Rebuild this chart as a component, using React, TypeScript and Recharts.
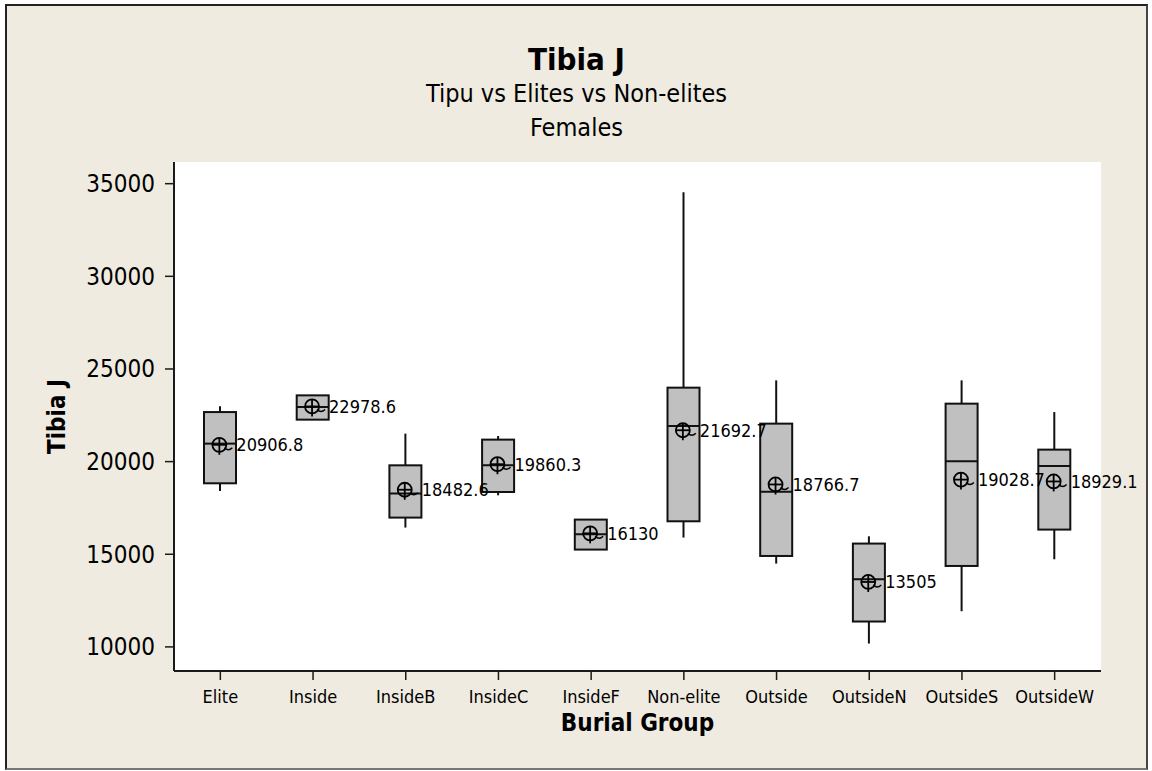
import React from 'react';
import { ComposedChart, Bar, Line, XAxis, YAxis, CartesianGrid, Label } from 'recharts';

const categories = ['Elite', 'Inside', 'InsideB', 'InsideC', 'InsideF', 'Non-elite', 'Outside', 'OutsideN', 'OutsideS', 'OutsideW'];
const whiskerLow = [18414, 22265, 16440, 18182, 15253, 15900, 14498, 10183, 11925, 14730];
const q1Values = [18830, 22265, 16979, 18360, 15253, 16780, 14908, 11370, 14369, 16332];
const medians = [20971, 22945, 18274, 19800, 16078, 21920, 18380, 13651, 20016, 19763];
const q3Values = [22675, 23576, 19800, 21187, 16871, 23992, 22050, 15577, 23128, 20647];
const whiskerHigh = [22983, 23576, 21510, 21381, 16871, 34542, 24385, 15970, 24385, 22675];
const means = [20906.8, 22978.6, 18482.6, 19860.3, 16130, 21692.7, 18766.7, 13505, 19028.7, 18929.1];
const yTicks = [10000, 15000, 20000, 25000, 30000, 35000];
const yDomain = [8700, 36170];

const titleText = 'Tibia J';
const subtitleLines = ['Tipu vs Elites vs Non-elites', 'Females'];
const xTitle = 'Burial Group';
const yTitle = 'Tibia J';

const FONT = "'DejaVu Sans Condensed', 'Liberation Sans', Arial, sans-serif";

const data = categories.map((name, i) => ({
  name,
  range: [whiskerLow[i], whiskerHigh[i]],
  q1: q1Values[i],
  median: medians[i],
  q3: q3Values[i],
  mean: means[i],
}));

const BoxShape = (props: any) => {
  const { x, y, width, height, payload } = props;
  if (x == null || y == null) return null;
  const top = Math.min(y, y + height);
  const h = Math.abs(height);
  const [lo, hi] = payload.range;
  const k = hi - lo === 0 ? 0 : h / (hi - lo);
  const py = (v: number) => top + (hi - v) * k;
  const cx = x + width / 2;
  const stroke = '#111';
  const sw = 2;
  return (
    <g>
      <line x1={cx} x2={cx} y1={py(hi)} y2={py(payload.q3)} stroke={stroke} strokeWidth={sw} />
      <line x1={cx} x2={cx} y1={py(payload.q1)} y2={py(lo)} stroke={stroke} strokeWidth={sw} />
      <rect
        x={x}
        y={py(payload.q3)}
        width={width}
        height={py(payload.q1) - py(payload.q3)}
        fill="#c0c0c0"
        stroke={stroke}
        strokeWidth={sw}
      />
      <line x1={x} x2={x + width} y1={py(payload.median)} y2={py(payload.median)} stroke={stroke} strokeWidth={sw} />
    </g>
  );
};

const MeanDot = (props: any) => {
  const { cx, cy, payload, index } = props;
  if (cx == null || cy == null) return null;
  return (
    <g key={`mean-${index}`}>
      <circle cx={cx - 1} cy={cy} r={7} fill="none" stroke="#000" strokeWidth={1.8} />
      <line x1={cx - 8} x2={cx + 6} y1={cy} y2={cy} stroke="#000" strokeWidth={1.8} />
      <line x1={cx - 1} x2={cx - 1} y1={cy - 7} y2={cy + 10} stroke="#000" strokeWidth={1.8} />
      <path d={`M ${cx + 4} ${cy + 3} Q ${cx + 8} ${cy + 7} ${cx + 12} ${cy + 3}`} fill="none" stroke="#000" strokeWidth={1.4} />
      <text x={cx + 16} y={cy} dy="0.36em" fontSize={18} fontFamily={FONT} fill="#000">
        {String(payload.mean)}
      </text>
    </g>
  );
};

export default function App() {
  return (
    <div style={{ position: 'absolute', left: 0, top: 0, width: 1152, height: 771, background: '#fff', overflow: 'hidden' }}>
      <div
        style={{
          position: 'absolute',
          left: 5,
          top: 4,
          width: 1143,
          height: 766,
          boxSizing: 'border-box',
          background: '#EFEBE0',
          borderTop: '2px solid #222',
          borderLeft: '2px solid #222',
          borderRight: '2px solid #444',
          borderBottom: '2px solid #777',
        }}
      />
      <div style={{ position: 'absolute', left: 6, width: 1141, top: 44, textAlign: 'center', fontFamily: FONT, fontWeight: 'bold', fontSize: 31, lineHeight: '31px', color: '#000' }}>
        {titleText}
      </div>
      <div style={{ position: 'absolute', left: 6, width: 1141, top: 81, textAlign: 'center', fontFamily: FONT, fontSize: 25, lineHeight: '25px', color: '#000' }}>
        {subtitleLines[0]}
      </div>
      <div style={{ position: 'absolute', left: 6, width: 1141, top: 115, textAlign: 'center', fontFamily: FONT, fontSize: 25, lineHeight: '25px', color: '#000' }}>
        {subtitleLines[1]}
      </div>
      <div style={{ position: 'absolute', left: 0, top: 0 }}>
        <ComposedChart width={1152} height={771} data={data} margin={{ top: 162, right: 51, bottom: 0, left: 0 }}>
          <CartesianGrid horizontal={false} vertical={false} fill="#ffffff" />
          <XAxis
            dataKey="name"
            type="category"
            interval={0}
            height={100}
            tickSize={9}
            tickMargin={10}
            tick={{ fontSize: 18, fill: '#000', fontFamily: FONT }}
            axisLine={{ stroke: '#1a1a1a', strokeWidth: 2 }}
            tickLine={{ stroke: '#1a1a1a', strokeWidth: 1.5 }}
          >
            <Label
              content={(p: any) => {
                const vb = p.viewBox || {};
                return (
                  <text x={vb.x + vb.width / 2} y={vb.y + 60} textAnchor="middle" fontFamily={FONT} fontWeight="bold" fontSize={24} fill="#000">
                    {xTitle}
                  </text>
                );
              }}
            />
          </XAxis>
          <XAxis xAxisId="top" dataKey="name" orientation="top" height={0} tick={false} tickLine={false} axisLine={{ stroke: '#1a1a1a', strokeWidth: 2 }} />
          <YAxis
            type="number"
            domain={yDomain}
            ticks={yTicks}
            allowDataOverflow
            width={174}
            tickSize={9}
            tickMargin={10}
            tick={{ fontSize: 24, fill: '#000', fontFamily: FONT }}
            axisLine={{ stroke: '#1a1a1a', strokeWidth: 2 }}
            tickLine={{ stroke: '#1a1a1a', strokeWidth: 1.5 }}
          >
            <Label
              content={(p: any) => {
                const vb = p.viewBox || {};
                return (
                  <text
                    transform={`translate(${vb.x + 65}, ${vb.y + vb.height / 2}) rotate(-90)`}
                    textAnchor="middle"
                    fontFamily={FONT}
                    fontWeight="bold"
                    fontSize={24}
                    fill="#000"
                  >
                    {yTitle}
                  </text>
                );
              }}
            />
          </YAxis>
          <YAxis yAxisId="right" orientation="right" type="number" domain={yDomain} width={0} tick={false} tickLine={false} axisLine={{ stroke: '#1a1a1a', strokeWidth: 2 }} />
          <Bar dataKey="range" barSize={32} shape={BoxShape} isAnimationActive={false} />
          <Line dataKey="mean" stroke="none" dot={MeanDot} activeDot={false} isAnimationActive={false} legendType="none" />
        </ComposedChart>
      </div>
    </div>
  );
}
